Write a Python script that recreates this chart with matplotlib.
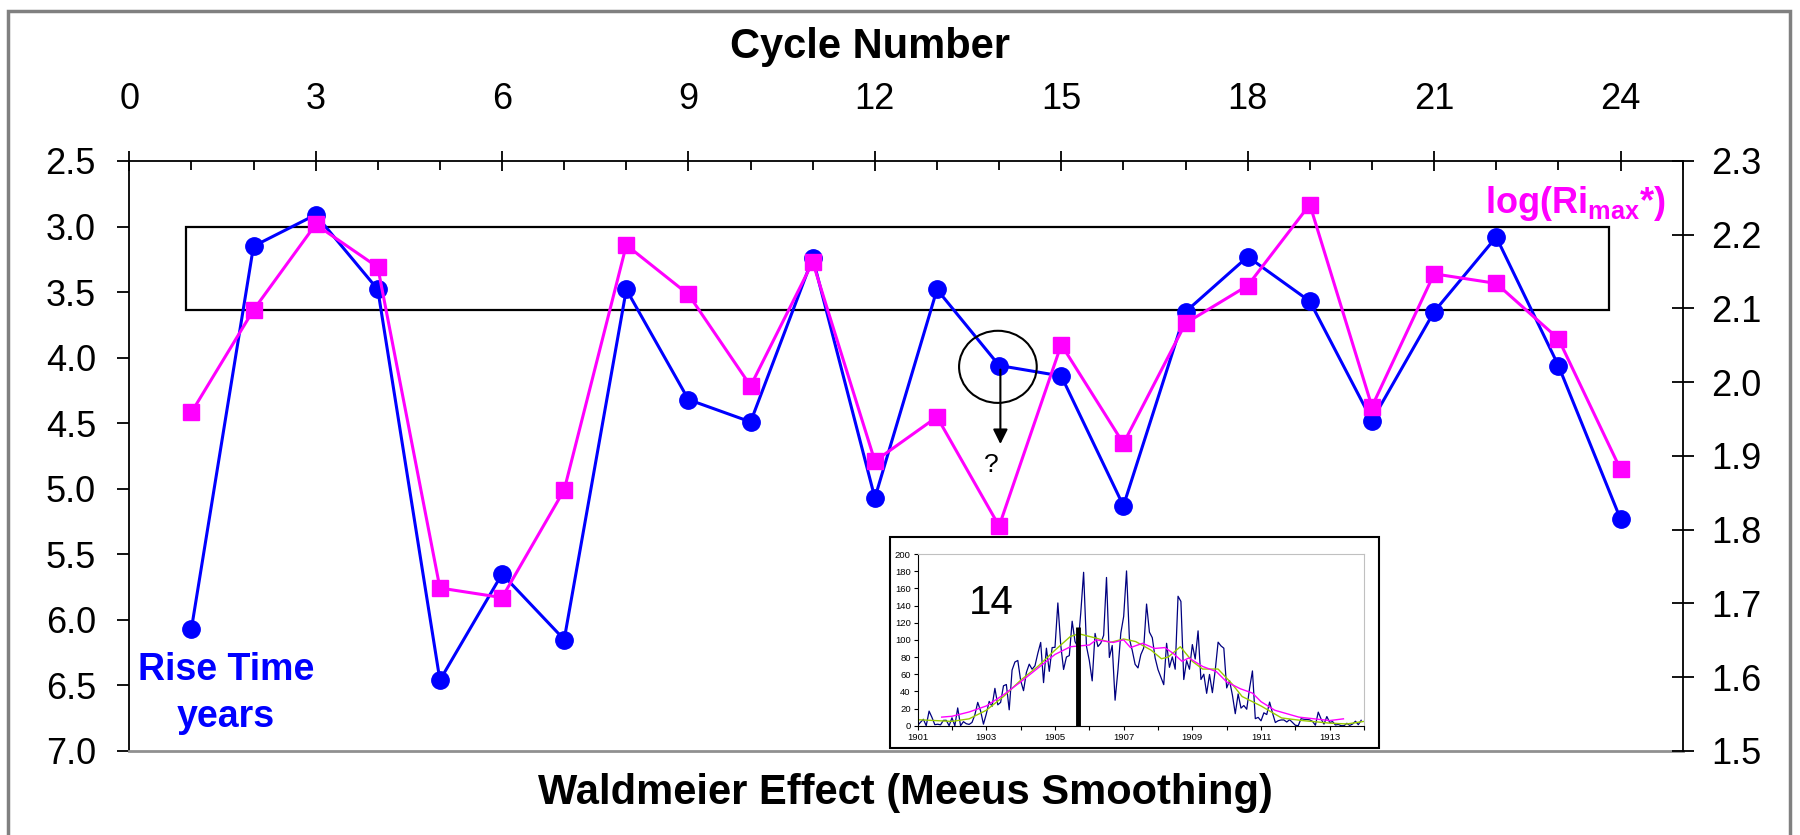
import numpy as np
import matplotlib
matplotlib.use("Agg")
import matplotlib.pyplot as plt
from matplotlib.patches import Rectangle, Ellipse
from matplotlib.ticker import MultipleLocator, FormatStrFormatter

plt.rcParams['font.family'] = ['Liberation Sans', 'DejaVu Sans']
plt.rcParams['mathtext.fontset'] = 'custom'
plt.rcParams['mathtext.rm'] = 'Liberation Sans'
plt.rcParams['mathtext.bf'] = 'Liberation Sans:bold'

# main chart data: cycles 1..24
cycles = list(range(1, 25))
rise_time = [6.07, 3.15, 2.91, 3.48, 6.46, 5.65, 6.15, 3.48, 4.32, 4.49, 3.24, 5.07,
             3.48, 4.06, 4.14, 5.13, 3.65, 3.23, 3.57, 4.48, 3.65, 3.08, 4.06, 5.23]
log_rmax = [1.959, 2.098, 2.214, 2.156, 1.721, 1.708, 1.854, 2.186, 2.119, 1.995, 2.163, 1.893,
            1.953, 1.805, 2.051, 1.917, 2.080, 2.131, 2.241, 1.967, 2.147, 2.134, 2.059, 1.882]

# inset: monthly sunspot numbers for cycle 14 (1901-1913)
inset_years = list(range(1901, 1914))
monthly_ssn = [
    [0.3, 4.0, 7.5, 0.0, 17.0, 9.7, 1.2, 1.7, 1.0, 6.2, 6.3, 0.0],
    [9.2, 0.0, 20.7, 0.0, 4.7, 2.3, 1.5, 3.8, 12.7, 27.2, 17.2, 1.8],
    [13.8, 28.3, 22.5, 43.5, 24.3, 27.2, 46.5, 48.0, 18.5, 64.8, 74.2, 76.0],
    [52.7, 40.8, 62.0, 71.7, 65.8, 69.8, 84.3, 97.0, 50.2, 90.3, 63.3, 91.0],
    [91.3, 143.0, 94.2, 65.5, 80.0, 81.7, 121.7, 98.0, 91.7, 131.2, 178.7, 92.5],
    [75.8, 52.2, 107.5, 92.2, 96.2, 105.3, 172.7, 79.5, 93.5, 29.7, 64.8, 107.8],
    [127.3, 180.3, 101.2, 87.7, 71.5, 67.3, 82.8, 90.5, 141.7, 109.0, 102.5, 78.8],
    [65.3, 56.5, 47.8, 96.0, 68.0, 80.2, 65.8, 150.8, 144.8, 53.8, 75.8, 65.8],
    [94.5, 77.7, 110.5, 53.8, 60.0, 37.7, 59.7, 38.5, 64.7, 97.3, 93.0, 90.3],
    [44.0, 52.5, 35.7, 14.0, 37.0, 20.5, 23.5, 19.2, 43.7, 63.8, 8.2, 9.7],
    [5.7, 15.0, 13.0, 27.5, 15.0, 3.7, 5.8, 6.7, 6.7, 4.3, 7.0, 3.7],
    [0.5, 0.0, 8.2, 7.5, 7.3, 6.8, 5.0, 0.5, 15.8, 7.7, 1.8, 10.7],
    [3.8, 4.8, 0.8, 1.5, 0.0, 0.0, 2.8, 0.3, 2.0, 5.2, 1.2, 6.3],
]
green_x = [1901.0, 1901.5, 1902.0, 1902.5, 1903.0, 1903.5, 1904.0, 1904.5, 1905.0, 1905.45,
           1905.7, 1906.2, 1906.6, 1907.0, 1907.35, 1907.8, 1908.1, 1908.3, 1908.65, 1909.0,
           1909.3, 1909.75, 1910.15, 1910.45, 1911.0, 1911.6, 1912.2, 1913.0, 1913.5, 1914.0]
green_y = [7, 6, 5, 8, 18, 34, 53, 69, 88, 104, 107, 102, 97, 101, 98, 88, 78, 80, 92, 75,
           66, 66, 49, 34, 23, 9, 6, 3, 2, 5]
pink_x = [1901.7, 1902.0, 1902.5, 1903.0, 1903.5, 1904.0, 1904.5, 1905.0, 1905.45, 1906.0,
          1906.2, 1906.7, 1907.0, 1907.2, 1907.55, 1907.9, 1908.2, 1908.45, 1908.7, 1908.9,
          1909.3, 1909.7, 1910.0, 1910.4, 1910.75, 1911.0, 1911.4, 1912.1, 1913.0, 1913.4]
pink_y = [10, 11, 16, 23, 36, 51, 67, 83, 92, 94, 100, 97, 100, 91, 96, 90, 91, 84, 75, 79,
          69, 63, 51, 43, 38, 28, 18, 10, 6, 8]
max_epoch = 1905.66
max_value = 115

BLUE = '#0000FF'
MAGENTA = '#FF00FF'

fig = plt.figure(figsize=(18, 8.35), dpi=100)

# outer grey frame
fig.patches.append(Rectangle((8 / 1800, -0.05), 1782 / 1800, 1 - 11 / 835 + 0.05,
                             transform=fig.transFigure, fill=False, ec='#808080', lw=2.5))

ax = fig.add_axes([0.0718, 0.1006, 0.863, 0.7066])
ax.set_xlim(0, 25)
ax.set_ylim(7.0, 2.5)
ax.xaxis.tick_top()
ax.xaxis.set_major_locator(MultipleLocator(3))
ax.xaxis.set_minor_locator(MultipleLocator(1))
ax.yaxis.set_major_locator(MultipleLocator(0.5))
ax.yaxis.set_major_formatter(FormatStrFormatter('%.1f'))
ax.tick_params(axis='x', which='major', direction='inout', length=15, width=1.3,
               labelsize=26, pad=24)
ax.tick_params(axis='x', which='minor', direction='in', length=6.5, width=1.3)
ax.tick_params(axis='y', direction='out', length=9, width=1.3, labelsize=26, pad=15)
for s in ['top', 'left']:
    ax.spines[s].set_linewidth(1.3)
ax.spines['bottom'].set_color('#909090')
ax.spines['bottom'].set_linewidth(2)
ax.spines['right'].set_visible(False)

ax.plot(cycles, rise_time, color=BLUE, lw=2.2, marker='o', ms=12.5, zorder=3)

ax.add_patch(Rectangle((0.91, 3.0), 22.9, 0.64, fill=False, ec='black', lw=1.6, zorder=2))
ax.add_patch(Ellipse((13.98, 4.07), 1.25, 0.55, fill=False, ec='black', lw=1.5, zorder=4))
ax.annotate('', xy=(14.02, 4.68), xytext=(14.02, 4.07),
            arrowprops=dict(arrowstyle='-|>', color='black', lw=1.5, mutation_scale=22),
            zorder=4)
ax.text(13.88, 4.82, '?', fontsize=19, ha='center', va='center')

ax2 = ax.twinx()
ax2.set_ylim(1.5, 2.3)
ax2.yaxis.set_major_locator(MultipleLocator(0.1))
ax2.yaxis.set_major_formatter(FormatStrFormatter('%.1f'))
ax2.tick_params(axis='y', direction='inout', length=16, width=1.3, labelsize=26, pad=12.5)
ax2.spines['right'].set_linewidth(1.3)
for s in ['top', 'left', 'bottom']:
    ax2.spines[s].set_visible(False)
ax2.plot(cycles, log_rmax, color=MAGENTA, lw=2.2, marker='s', ms=11, zorder=3)

fig.text(870 / 1800, 1 - 47 / 835, 'Cycle Number', fontsize=30, fontweight='bold',
         ha='center', va='center')
fig.text(905 / 1800, 1 - 793 / 835, 'Waldmeier Effect (Meeus Smoothing)', fontsize=30,
         fontweight='bold', ha='center', va='center')
fig.text(138 / 1800, 1 - 680 / 835, 'Rise Time', fontsize=27, fontweight='bold',
         color=BLUE, ha='left', va='baseline')
fig.text(177 / 1800, 1 - 727 / 835, 'years', fontsize=27, fontweight='bold',
         color=BLUE, ha='left', va='baseline')
fig.text(1666 / 1800, 1 - 213 / 835, r'log(Ri$_{\mathbf{max}}$*)', fontsize=26,
         fontweight='bold', color=MAGENTA, ha='right', va='baseline')

# inset with the cycle 14 sunspot record
fig.patches.append(Rectangle((890 / 1800, 1 - 748 / 835), 489 / 1800, 211 / 835,
                             transform=fig.transFigure, fc='white', ec='black', lw=1.5,
                             zorder=1))
axi = fig.add_axes([0.5098, 0.1309, 0.248, 0.2056], zorder=2)
months = np.arange(12) / 12
inset_x = np.concatenate([y + months for y in inset_years])
inset_y = np.concatenate(monthly_ssn)
axi.plot(inset_x, inset_y, color='#000080', lw=0.9)
axi.plot(green_x, green_y, color='#99CC00', lw=1.0)
axi.plot(pink_x, pink_y, color=MAGENTA, lw=1.0)
axi.vlines(max_epoch, 0, max_value, color='black', lw=3.5)
axi.set_xlim(1901, 1914)
axi.set_ylim(0, 200)
axi.set_xticks(range(1901, 1914, 2))
axi.set_xticks(range(1902, 1915, 2), minor=True)
axi.yaxis.set_major_locator(MultipleLocator(20))
axi.tick_params(which='both', direction='out', length=3, width=0.8, labelsize=6.8, pad=2)
axi.spines['top'].set_color('#C0C0C0')
axi.spines['right'].set_color('#C0C0C0')
axi.text(0.165, 0.715, '14', transform=axi.transAxes, fontsize=29, ha='center', va='center')

fig.savefig('out.png', dpi=100)
